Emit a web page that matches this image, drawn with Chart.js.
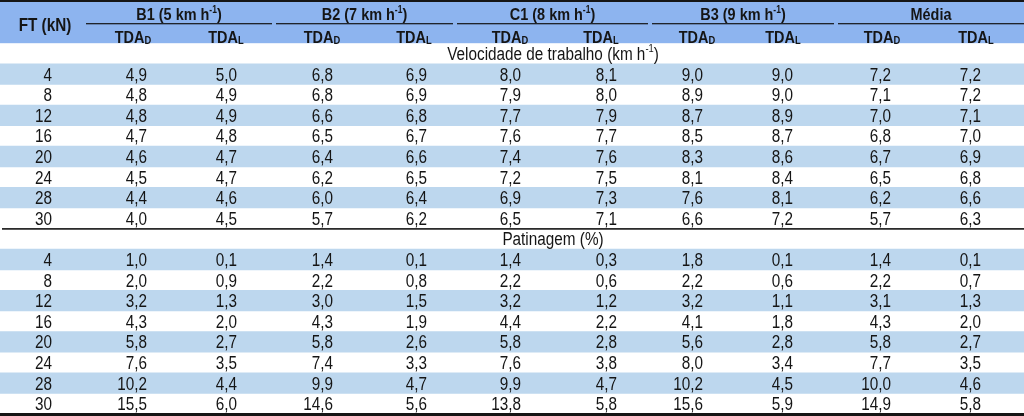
<!DOCTYPE html>
<html>
<head>
<meta charset="utf-8">
<script src="https://cdn.jsdelivr.net/npm/chart.js@4.4.1/dist/chart.umd.min.js"></script>
<style>
  html, body { margin: 0; padding: 0; background: #fff; }
  #wrap { width: 1024px; height: 416px; position: relative; }
</style>
</head>
<body>
<div id="wrap"><canvas id="tbl"></canvas></div>
<script>
const ftLevels = [4, 8, 12, 16, 20, 24, 28, 30];
const groupNames = ["B1", "B2", "C1", "B3", "Média"];
const groupSpeeds = [5, 7, 8, 9, null];
const subHeads = ["D", "L"];
const sectionTitles = ["Velocidade de trabalho", "Patinagem (%)"];

// rows: B1 D/L, B2 D/L, C1 D/L, B3 D/L, Média D/L
const velocidade = [
  [4.9, 5.0, 6.8, 6.9, 8.0, 8.1, 9.0, 9.0, 7.2, 7.2],
  [4.8, 4.9, 6.8, 6.9, 7.9, 8.0, 8.9, 9.0, 7.1, 7.2],
  [4.8, 4.9, 6.6, 6.8, 7.7, 7.9, 8.7, 8.9, 7.0, 7.1],
  [4.7, 4.8, 6.5, 6.7, 7.6, 7.7, 8.5, 8.7, 6.8, 7.0],
  [4.6, 4.7, 6.4, 6.6, 7.4, 7.6, 8.3, 8.6, 6.7, 6.9],
  [4.5, 4.7, 6.2, 6.5, 7.2, 7.5, 8.1, 8.4, 6.5, 6.8],
  [4.4, 4.6, 6.0, 6.4, 6.9, 7.3, 7.6, 8.1, 6.2, 6.6],
  [4.0, 4.5, 5.7, 6.2, 6.5, 7.1, 6.6, 7.2, 5.7, 6.3]
];
const patinagem = [
  [1.0, 0.1, 1.4, 0.1, 1.4, 0.3, 1.8, 0.1, 1.4, 0.1],
  [2.0, 0.9, 2.2, 0.8, 2.2, 0.6, 2.2, 0.6, 2.2, 0.7],
  [3.2, 1.3, 3.0, 1.5, 3.2, 1.2, 3.2, 1.1, 3.1, 1.3],
  [4.3, 2.0, 4.3, 1.9, 4.4, 2.2, 4.1, 1.8, 4.3, 2.0],
  [5.8, 2.7, 5.8, 2.6, 5.8, 2.8, 5.6, 2.8, 5.8, 2.7],
  [7.6, 3.5, 7.4, 3.3, 7.6, 3.8, 8.0, 3.4, 7.7, 3.5],
  [10.2, 4.4, 9.9, 4.7, 9.9, 4.7, 10.2, 4.5, 10.0, 4.6],
  [15.5, 6.0, 14.6, 5.6, 13.8, 5.8, 15.6, 5.9, 14.9, 5.8]
];

// layout (x in table units = px across the 1024 wide table)
const FT_RIGHT = 52;
const COL_RIGHT = [147, 237, 333, 427, 521, 617, 703, 793, 891, 981];
const SUB_CENTER = [133, 226, 322, 414, 510, 601, 697, 783, 882, 976];
const GROUP_SPAN = [[86, 272], [276, 453], [457, 648], [652, 834], [838, 1024]];
const TITLE_X = 553;

const HEAD_BLUE = "#8db4ef";
const ROW_BLUE = "#bdd7ee";
const INK = "#151515";
const FONT = '"Liberation Sans", Arial, sans-serif';
const SX = 0.85; // condensed look

const slots = ["h1", "h2", "s1", ...ftLevels.map((f) => "v" + f), "s2", ...ftLevels.map((f) => "p" + f)];
const stripe = slots.map((s, i) => {
  const r = i < 11 ? i - 3 : i - 12;
  return (s[0] === "v" || s[0] === "p") && r % 2 === 0 ? [0, 1024] : null;
});

const fmt = (v) => v.toFixed(1).replace(".", ",");

function drawRich(ctx, segs, x, y, align) {
  const widths = segs.map((s) => {
    ctx.font = `${s.bold ? "bold " : ""}${s.size}px ${FONT}`;
    return ctx.measureText(s.t).width * SX;
  });
  const total = widths.reduce((a, b) => a + b, 0);
  let cx = align === "center" ? x - total / 2 : align === "right" ? x - total : x;
  segs.forEach((s, i) => {
    ctx.font = `${s.bold ? "bold " : ""}${s.size}px ${FONT}`;
    ctx.save();
    ctx.translate(cx, y + (s.dy || 0));
    ctx.scale(SX, 1);
    ctx.fillText(s.t, 0, 0);
    ctx.restore();
    cx += widths[i];
  });
}

// "... km h⁻¹)" with a real superscript
function kmh(prefix, bold, size) {
  return [
    { t: prefix + "km h", size, bold },
    { t: "-1", size: Math.round(size * 0.6), bold, dy: -size * 0.42 },
    { t: ")", size, bold }
  ];
}

const tablePlugin = {
  id: "tablePlugin",
  beforeDatasetsDraw(chart) {
    const { ctx, scales: { y } } = chart;
    const edge = (y.getPixelForValue(1) + y.getPixelForValue(2)) / 2;
    ctx.save();
    ctx.fillStyle = HEAD_BLUE;
    ctx.fillRect(0, 0, chart.width, edge);
    ctx.restore();
  },
  afterDatasetsDraw(chart) {
    const { ctx, scales: { x, y }, chartArea } = chart;
    const step = y.getPixelForValue(1) - y.getPixelForValue(0);
    ctx.save();
    ctx.fillStyle = INK;
    ctx.textBaseline = "alphabetic";

    // rules
    ctx.fillRect(0, 0, chart.width, 2);
    ctx.fillRect(0, chartArea.bottom - 1, chart.width, chart.height - chartArea.bottom + 1);
    const secLine = y.getPixelForValue(10) + step / 2;
    ctx.fillRect(x.getPixelForValue(2), secLine - 0.5, chart.width, 1.6);
    const subLine = y.getPixelForValue(0) + step / 2 + 1;
    GROUP_SPAN.forEach(([a, b]) => {
      ctx.fillRect(x.getPixelForValue(a), subLine - 0.5, x.getPixelForValue(b) - x.getPixelForValue(a), 1.2);
    });

    // header
    const hy1 = y.getPixelForValue(0) + 8;
    const hy2 = y.getPixelForValue(1) + 10;
    drawRich(ctx, [{ t: "FT (kN)", size: 18, bold: true }], x.getPixelForValue(45), subLine + 7, "center");
    groupNames.forEach((g, gi) => {
      const [a, b] = GROUP_SPAN[gi];
      const cx = x.getPixelForValue((a + b) / 2);
      const segs = groupSpeeds[gi] === null
        ? [{ t: g, size: 17, bold: true }]
        : kmh(g + " (" + groupSpeeds[gi] + " ", true, 17);
      drawRich(ctx, segs, cx, hy1, "center");
    });
    SUB_CENTER.forEach((c, i) => {
      drawRich(ctx, [
        { t: "TDA", size: 17, bold: true },
        { t: subHeads[i % 2], size: 11, bold: true, dy: 1 }
      ], x.getPixelForValue(c), hy2, "center");
    });

    // section titles
    drawRich(ctx, kmh(sectionTitles[0] + " (", false, 18), x.getPixelForValue(TITLE_X), y.getPixelForValue(2) + 6.5, "center");
    drawRich(ctx, [{ t: sectionTitles[1], size: 18 }], x.getPixelForValue(TITLE_X), y.getPixelForValue(11) + 6.5, "center");

    // body
    [velocidade, patinagem].forEach((rows, si) => {
      const base = si === 0 ? 3 : 12;
      rows.forEach((row, ri) => {
        const py = y.getPixelForValue(base + ri) + 6.5;
        drawRich(ctx, [{ t: String(ftLevels[ri]), size: 18 }], x.getPixelForValue(FT_RIGHT), py, "right");
        row.forEach((v, ci) => {
          drawRich(ctx, [{ t: fmt(v), size: 18 }], x.getPixelForValue(COL_RIGHT[ci]), py, "right");
        });
      });
    });
    ctx.restore();
  }
};

new Chart(document.getElementById("tbl"), {
  type: "bar",
  data: {
    labels: slots,
    datasets: [
      {
        data: stripe,
        backgroundColor: ROW_BLUE,
        borderWidth: 0,
        barPercentage: 1,
        categoryPercentage: 1,
        grouped: false
      }
    ]
  },
  options: {
    indexAxis: "y",
    responsive: true,
    maintainAspectRatio: false,
    devicePixelRatio: 1,
    animation: false,
    layout: { padding: { top: 2, bottom: 2, left: 0, right: 0 } },
    plugins: { legend: { display: false }, tooltip: { enabled: false } },
    scales: {
      x: { type: "linear", min: 0, max: 1024, display: false },
      y: { type: "category", display: false, offset: true }
    }
  },
  plugins: [tablePlugin]
});
</script>
</body>
</html>
